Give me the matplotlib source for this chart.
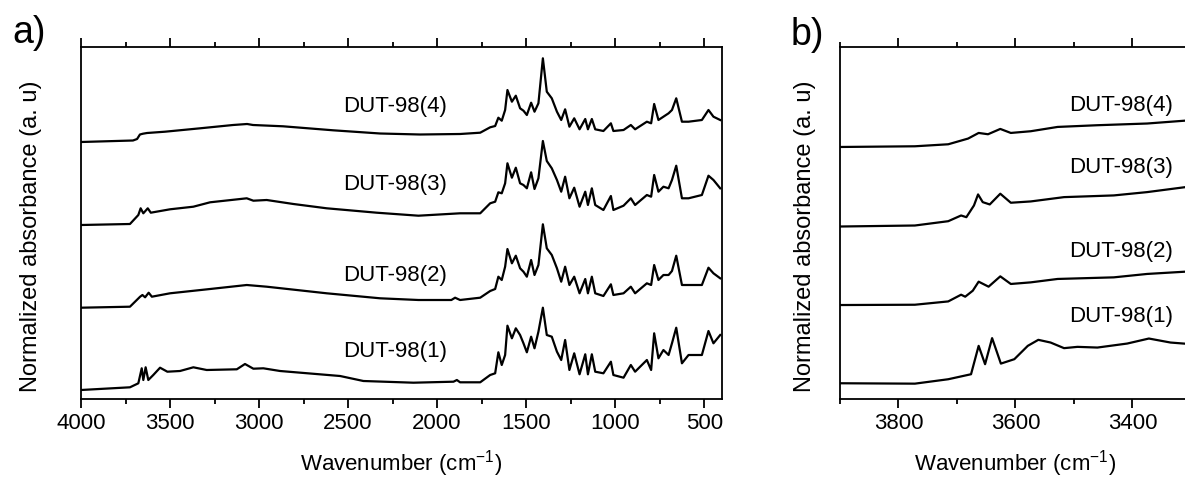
"""
Espectros IR de DUT-98(1-4): rango completo (a) y zona de OH (b).
"""

import matplotlib.pyplot as plt
from matplotlib.ticker import MultipleLocator
import numpy as np

plt.rcParams['font.family'] = ['Liberation Sans', 'DejaVu Sans']
plt.rcParams['mathtext.fontset'] = 'custom'
plt.rcParams['mathtext.rm'] = 'Liberation Sans'
plt.rcParams['mathtext.default'] = 'regular'

# ============================================================================
# DATOS - panel a (4000-400 cm-1), absorbancia relativa a 4000 cm-1
# ============================================================================
labels = ["DUT-98(1)", "DUT-98(2)", "DUT-98(3)", "DUT-98(4)"]

# zona de alto numero de onda (puntos leidos por espectro)
wn_hi_1 = [4000, 3725, 3678, 3659, 3650, 3637, 3622, 3594, 3556, 3515, 3444, 3369,
           3294, 3125, 3079, 3032, 2976, 2882, 2545, 2414, 2133, 1908, 1889, 1871]
ab_hi_1 = [0, 0.027, 0.067, 0.217, 0.10, 0.227, 0.10, 0.15, 0.223, 0.183, 0.19, 0.227,
           0.20, 0.207, 0.26, 0.213, 0.217, 0.19, 0.14, 0.09, 0.073, 0.083, 0.10, 0.077]

wn_hi_2 = [4000, 3725, 3668, 3655, 3640, 3620, 3602, 3500, 3275, 3069, 2957, 2620,
           2320, 2105, 1920, 1899, 1871]
ab_hi_2 = [0, 0.01, 0.11, 0.127, 0.104, 0.15, 0.11, 0.144, 0.187, 0.227, 0.21, 0.144,
           0.094, 0.077, 0.077, 0.10, 0.077]

wn_hi_3 = [4000, 3725, 3678, 3665, 3650, 3625, 3608, 3500, 3369, 3275, 3069, 3032,
           2957, 2807, 2620, 2339, 2105, 1871]
ab_hi_3 = [0, 0.01, 0.10, 0.167, 0.117, 0.167, 0.123, 0.157, 0.183, 0.227, 0.267, 0.243,
           0.25, 0.21, 0.167, 0.123, 0.093, 0.117]

wn_hi_4 = [4000, 3708, 3685, 3669, 3652, 3629, 3528, 3331, 3146, 3067, 3034, 2865,
           2584, 2320, 2096, 1871]
ab_hi_4 = [0.00, 0.015, 0.03, 0.075, 0.083, 0.09, 0.103, 0.137, 0.17, 0.18, 0.17, 0.157,
           0.117, 0.085, 0.075, 0.08]

# zona de huella dactilar (mismos numeros de onda para los 4 espectros)
wn_fp = [1758, 1702, 1674, 1656, 1637, 1618, 1605, 1580, 1558, 1534, 1515, 1496,
         1472, 1453, 1431, 1406, 1384, 1356, 1327, 1303, 1281, 1257, 1230, 1200,
         1168, 1153, 1131, 1112, 1066, 1024, 1010, 953, 912, 888, 822, 798,
         781, 757, 729, 700, 681, 657, 625, 588, 513, 476, 448, 410]

ab_fp_1 = [0.077, 0.15, 0.167, 0.377, 0.25, 0.35, 0.643, 0.517, 0.617, 0.55, 0.467, 0.377,
           0.533, 0.417, 0.583, 0.823, 0.55, 0.533, 0.383, 0.30, 0.50, 0.20, 0.367, 0.157,
           0.357, 0.157, 0.357, 0.183, 0.167, 0.283, 0.15, 0.123, 0.25, 0.183, 0.30, 0.20,
           0.567, 0.317, 0.40, 0.35, 0.467, 0.623, 0.267, 0.35, 0.35, 0.59, 0.467, 0.55]
ab_fp_2 = [0.10, 0.167, 0.187, 0.31, 0.277, 0.41, 0.587, 0.444, 0.52, 0.394, 0.36, 0.31,
           0.477, 0.327, 0.427, 0.834, 0.594, 0.527, 0.394, 0.26, 0.41, 0.227, 0.31, 0.144,
           0.287, 0.144, 0.31, 0.144, 0.117, 0.234, 0.127, 0.144, 0.21, 0.144, 0.244, 0.227,
           0.427, 0.277, 0.327, 0.327, 0.367, 0.52, 0.227, 0.227, 0.227, 0.40, 0.344, 0.294]
ab_fp_3 = [0.117, 0.217, 0.233, 0.327, 0.317, 0.417, 0.617, 0.473, 0.573, 0.417, 0.40, 0.367,
           0.527, 0.36, 0.467, 0.84, 0.64, 0.567, 0.45, 0.333, 0.483, 0.267, 0.373, 0.183,
           0.333, 0.20, 0.367, 0.20, 0.15, 0.29, 0.15, 0.193, 0.267, 0.20, 0.30, 0.283,
           0.50, 0.333, 0.383, 0.367, 0.45, 0.593, 0.267, 0.267, 0.30, 0.493, 0.45, 0.367]
ab_fp_4 = [0.093, 0.147, 0.16, 0.243, 0.213, 0.32, 0.52, 0.403, 0.463, 0.337, 0.313, 0.27,
           0.393, 0.303, 0.387, 0.837, 0.503, 0.437, 0.303, 0.22, 0.327, 0.153, 0.237, 0.127,
           0.23, 0.127, 0.23, 0.127, 0.11, 0.187, 0.11, 0.12, 0.17, 0.127, 0.203, 0.187,
           0.38, 0.22, 0.253, 0.287, 0.32, 0.437, 0.203, 0.203, 0.22, 0.32, 0.253, 0.22]

offsets_a = [0.09, 0.913, 1.74, 2.57]

# ============================================================================
# DATOS - panel b (3900-3300 cm-1)
# ============================================================================
wn_b_1 = [3900, 3772, 3715, 3676, 3663, 3652, 3640, 3625, 3602, 3579, 3561, 3540,
          3517, 3494, 3460, 3409, 3372, 3335, 3300]
ab_b_1 = [0, -0.004, 0.04, 0.09, 0.373, 0.19, 0.45, 0.196, 0.24, 0.373, 0.433, 0.406,
          0.35, 0.363, 0.356, 0.396, 0.446, 0.406, 0.39]
wn_b_2 = [3900, 3772, 3715, 3693, 3686, 3673, 3663, 3646, 3626, 3608, 3574, 3528,
          3432, 3375, 3300]
ab_b_2 = [0, 0.003, 0.036, 0.103, 0.083, 0.143, 0.233, 0.183, 0.286, 0.21, 0.226, 0.26,
          0.276, 0.31, 0.336]
wn_b_3 = [3900, 3772, 3715, 3693, 3684, 3671, 3664, 3656, 3644, 3626, 3608, 3574,
          3517, 3432, 3375, 3300]
ab_b_3 = [0, 0.01, 0.053, 0.11, 0.093, 0.21, 0.32, 0.243, 0.22, 0.327, 0.237, 0.25,
          0.293, 0.31, 0.343, 0.40]
wn_b_4 = [3900, 3772, 3715, 3681, 3663, 3647, 3626, 3608, 3574, 3528, 3460, 3375, 3300]
ab_b_4 = [0, 0.007, 0.027, 0.084, 0.14, 0.127, 0.18, 0.14, 0.157, 0.20, 0.217, 0.234, 0.267]

offsets_b = [0.157, 0.937, 1.72, 2.513]

# juntar zonas del panel a
espectros_a = [
    (wn_hi_1 + wn_fp, ab_hi_1 + ab_fp_1),
    (wn_hi_2 + wn_fp, ab_hi_2 + ab_fp_2),
    (wn_hi_3 + wn_fp, ab_hi_3 + ab_fp_3),
    (wn_hi_4 + wn_fp, ab_hi_4 + ab_fp_4),
]
espectros_b = [(wn_b_1, ab_b_1), (wn_b_2, ab_b_2), (wn_b_3, ab_b_3), (wn_b_4, ab_b_4)]

W, H = 1185, 478
fig = plt.figure(figsize=(W / 100, H / 100), dpi=100)

ax_a = fig.add_axes([81 / W, 1 - 399 / H, (722 - 81) / W, (399 - 47) / H])
ax_b = fig.add_axes([840 / W, 1 - 399 / H, (1191 - 840) / W, (399 - 47) / H])

FS = 16
LW = 1.6


def estilo(ax):
    for sp in ax.spines.values():
        sp.set_linewidth(1.3)
    ax.tick_params(axis='x', which='both', direction='out', top=True, bottom=True,
                   labeltop=False, labelsize=FS, width=1.3)
    ax.tick_params(axis='x', which='major', length=6.5)
    ax.tick_params(axis='x', which='minor', length=3.5)
    ax.tick_params(axis='y', which='both', left=False, right=False, labelleft=False)


# ----------------------------------------------------------------------------
# panel a
# ----------------------------------------------------------------------------
for (wn, ab), off in zip(espectros_a, offsets_a):
    ax_a.plot(wn, np.array(ab) + off, color='black', linewidth=LW)

ax_a.set_xlim(4000, 400)
ax_a.set_ylim(0, 3.52)
ax_a.xaxis.set_major_locator(MultipleLocator(500))
ax_a.xaxis.set_minor_locator(MultipleLocator(250))
estilo(ax_a)
ax_a.set_xlabel("Wavenumber (cm$^{-1}$)", fontsize=FS, labelpad=10)

pos_a = [0.47, 1.24, 2.14, 2.92]
for lab, y in zip(labels, pos_a):
    ax_a.text(2236, y, lab, fontsize=FS, ha='center', va='center')

# ----------------------------------------------------------------------------
# panel b
# ----------------------------------------------------------------------------
for (wn, ab), off in zip(espectros_b, offsets_b):
    ax_b.plot(wn, np.array(ab) + off, color='black', linewidth=LW)

ax_b.set_xlim(3900, 3300)
ax_b.set_ylim(0, 3.51)
ax_b.xaxis.set_major_locator(MultipleLocator(200))
ax_b.xaxis.set_minor_locator(MultipleLocator(100))
estilo(ax_b)
ax_b.set_xlabel("Wavenumber (cm$^{-1}$)", fontsize=FS, labelpad=10)

pos_b = [0.82, 1.47, 2.31, 2.93]
for lab, y in zip(labels, pos_b):
    ax_b.text(3420, y, lab, fontsize=FS, ha='center', va='center')

# etiquetas comunes
for xc in (31, 805):
    fig.text(xc / W, 1 - 236 / H, "Normalized absorbance (a. u)", rotation=90,
             fontsize=17, ha='center', va='center')
fig.text(29 / W, 1 - 33 / H, "a)", fontsize=27, ha='center', va='center')
fig.text(807 / W, 1 - 35 / H, "b)", fontsize=27, ha='center', va='center')

fig.savefig("out.png", dpi=100)
